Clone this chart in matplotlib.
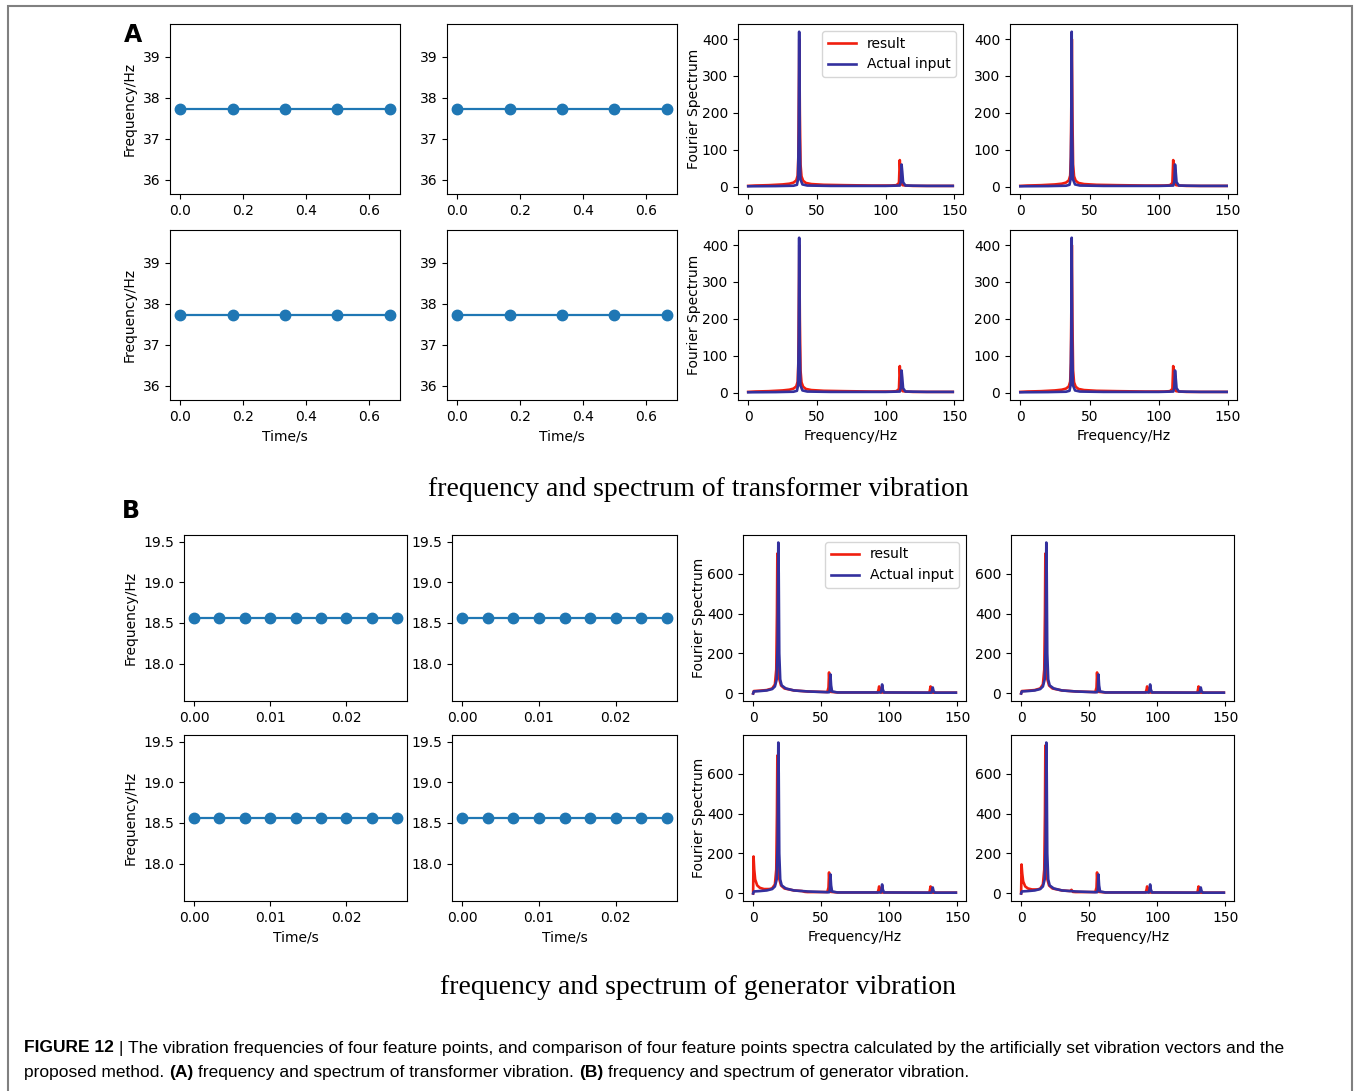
import matplotlib
matplotlib.use("Agg")
import matplotlib.pyplot as plt
from matplotlib import font_manager
import numpy as np

W, H = 1356, 1091

# ---------------- data ----------------
A_time = [0.0, 1/6, 2/6, 3/6, 4/6]
A_freq_val = [37.73, 37.73, 37.73, 37.73, 37.73]
B_time = [0.0, 1/300, 2/300, 3/300, 4/300, 5/300, 6/300, 7/300, 8/300]
B_freq_val = [18.56] * 9

A_red_f = [0, 5, 15, 25, 30, 33, 35, 36, 36.5, 36.9, 37.2, 37.6, 38.1, 38.8, 40.0, 42, 46, 55, 70, 90, 104, 108, 109.8, 110.4, 110.9, 111.5, 112.5, 115, 120, 135, 149]
A_red_a = [2, 3, 4, 6, 8, 11, 17, 30, 80, 250, 400, 200, 60, 28, 16, 10, 7, 5, 4, 3, 3, 4, 10, 72, 40, 10, 4, 3, 2, 2, 2]
A_blue_f = [0, 20, 33, 35.5, 36.3, 36.8, 37.1, 37.4, 38.0, 39.5, 43, 60, 100, 110.5, 111.2, 111.7, 112.2, 112.8, 114.5, 130, 149]
A_blue_a = [1, 1.5, 2.5, 5, 20, 150, 420, 150, 20, 6, 3, 2, 2, 3, 15, 60, 40, 12, 3, 2, 2]

B_red_f = [0, 0.5, 5, 10, 14, 16, 17.0, 17.5, 17.8, 18.1, 18.6, 19.3, 20.5, 23, 30, 40, 54.5, 55.4, 55.8, 56.3, 57, 62, 91.5, 92.2, 92.6, 93.2, 94, 129.5, 130.0, 130.4, 131, 132, 149]
B_red_a = [0, 12, 14, 17, 25, 45, 120, 400, 700, 400, 150, 70, 40, 25, 15, 10, 7, 30, 105, 40, 8, 5, 5, 20, 35, 15, 5, 4, 20, 35, 12, 4, 4]
B_blue_f = [0, 0.5, 5, 10, 14, 16, 17.3, 18.0, 18.5, 18.8, 19.2, 19.9, 21.0, 24, 30, 40, 55.8, 56.4, 56.8, 57.3, 58, 62, 93.8, 94.4, 94.8, 95.3, 96.2, 131.0, 131.6, 132.0, 132.6, 133.6, 149]
B_blue_a = [0, 10, 12, 15, 22, 35, 70, 250, 755, 600, 200, 70, 40, 25, 15, 10, 6, 20, 95, 40, 10, 5, 5, 20, 45, 20, 5, 4, 15, 30, 12, 4, 4]
# red spectrum with DC spike (bottom row of B)
B_red_dc_f = [0, 0.3, 0.8, 1.5, 3, 5, 8, 12, 14, 16, 17.0, 17.5, 17.8, 18.1, 18.6, 19.3, 20.5, 23, 30, 36, 37, 38, 40, 54.5, 55.4, 55.8, 56.3, 57, 62, 91.5, 92.2, 92.6, 93.2, 94, 129.5, 130.0, 130.4, 131, 132, 149]
B_red_dc3_a = [0, 185, 120, 70, 40, 28, 22, 22, 26, 45, 120, 400, 690, 400, 150, 70, 40, 25, 15, 12, 10, 8, 7, 7, 30, 105, 40, 8, 5, 5, 20, 35, 15, 5, 4, 20, 35, 12, 4, 4]
B_red_dc4_a = [0, 145, 100, 60, 35, 25, 20, 20, 24, 45, 120, 400, 740, 400, 150, 70, 40, 25, 15, 12, 18, 8, 7, 7, 30, 105, 40, 8, 5, 5, 20, 35, 15, 5, 4, 20, 35, 12, 4, 4]

legend_labels = ["result", "Actual input"]
titles = ["frequency and spectrum of transformer vibration",
          "frequency and spectrum of generator vibration"]
caption_line1 = [("FIGURE 12", "bold"), ("|", "normal"),
                 ("The vibration frequencies of four feature points, and comparison of four feature points spectra calculated by the artificially set vibration vectors and the", "normal")]
caption_line2 = [("proposed method.", "normal"), ("(A)", "bold"), ("frequency and spectrum of transformer vibration.", "normal"),
                 ("(B)", "bold"), ("frequency and spectrum of generator vibration.", "normal")]

RED = "#f01e0e"
BLUE = "#33309e"
TAB = "#1f77b4"

plt.rcParams["font.family"] = ["DejaVu Sans"]
plt.rcParams["font.size"] = 10

fig = plt.figure(figsize=(W / 100, H / 100), dpi=100)


def ax_px(x0, y0, x1, y1):
    return fig.add_axes([x0 / W, 1 - y1 / H, (x1 - x0) / W, (y1 - y0) / H])


# frame (open at the bottom, as in the cropped reference)
fig.add_artist(plt.Rectangle((8 / W, -0.05), (1352 - 8) / W, 1.05 - 6 / H, transform=fig.transFigure,
                             fill=False, edgecolor="#808080", linewidth=1.5))

# ---------------- panel A ----------------
A_rows = [(24, 194), (230, 400)]
A_cols = [(170, 400), (447, 677), (738, 963), (1010, 1237)]
for r, (y0, y1) in enumerate(A_rows):
    for c, (x0, x1) in enumerate(A_cols):
        ax = ax_px(x0, y0, x1, y1)
        if c < 2:
            ax.plot(A_time, A_freq_val, "-o", color=TAB, lw=1.6, ms=7.5)
            ax.set_xticks([0.0, 0.2, 0.4, 0.6])
            ax.set_yticks([36, 37, 38, 39])
            if c == 0:
                ax.set_ylabel("Frequency/Hz")
            if r == 1:
                ax.set_xlabel("Time/s")
        else:
            ax.plot(A_red_f, A_red_a, color=RED, lw=1.9, label=legend_labels[0])
            ax.plot(A_blue_f, A_blue_a, color=BLUE, lw=1.9, label=legend_labels[1])
            ax.set_xticks([0, 50, 100, 150])
            ax.set_yticks([0, 100, 200, 300, 400])
            if c == 2:
                ax.set_ylabel("Fourier Spectrum", labelpad=1)
            if r == 1:
                ax.set_xlabel("Frequency/Hz")
            if r == 0 and c == 2:
                ax.legend(loc="upper right", fontsize=10)

# ---------------- panel B ----------------
B_rows = [(535, 701), (735, 901)]
B_cols = [(184, 407), (452, 677), (743, 966), (1011, 1234)]
for r, (y0, y1) in enumerate(B_rows):
    for c, (x0, x1) in enumerate(B_cols):
        ax = ax_px(x0, y0, x1, y1)
        if c < 2:
            ax.plot(B_time, B_freq_val, "-o", color=TAB, lw=1.6, ms=7.5)
            ax.set_xticks([0.0, 0.01, 0.02])
            ax.set_xticklabels(["0.00", "0.01", "0.02"])
            ax.set_yticks([18.0, 18.5, 19.0, 19.5])
            if c == 0:
                ax.set_ylabel("Frequency/Hz")
            if r == 1:
                ax.set_xlabel("Time/s")
        else:
            if r == 0:
                ax.plot(B_red_f, B_red_a, color=RED, lw=1.9, label=legend_labels[0])
            elif c == 2:
                ax.plot(B_red_dc_f, B_red_dc3_a, color=RED, lw=1.9, label=legend_labels[0])
            else:
                ax.plot(B_red_dc_f, B_red_dc4_a, color=RED, lw=1.9, label=legend_labels[0])
            ax.plot(B_blue_f, B_blue_a, color=BLUE, lw=1.9, label=legend_labels[1])
            ax.set_xticks([0, 50, 100, 150])
            ax.set_yticks([0, 200, 400, 600])
            if c == 2:
                ax.set_ylabel("Fourier Spectrum", labelpad=1)
            if r == 1:
                ax.set_xlabel("Frequency/Hz")
            if r == 0 and c == 2:
                ax.legend(loc="upper right", fontsize=10)

# panel letters
fig.text(124 / W, 1 - 35 / H, "A", fontsize=17, weight="bold", va="center", ha="left")
fig.text(122 / W, 1 - 511 / H, "B", fontsize=17, weight="bold", va="center", ha="left")

# titles
fig.text(698 / W, 1 - 489 / H, titles[0], fontsize=20, family="Liberation Serif", ha="center", va="center")
fig.text(698 / W, 1 - 988 / H, titles[1], fontsize=20, family="Liberation Serif", ha="center", va="center")

# caption
names = {f.name for f in font_manager.fontManager.ttflist}
capfam = "Liberation Sans Narrow" if "Liberation Sans Narrow" in names else "Liberation Sans"
renderer = fig.canvas.get_renderer()


def width_of(txt, size, weight):
    t = fig.text(0, 0, txt, fontsize=size, weight=weight, family=capfam)
    w = t.get_window_extent(renderer).width
    t.remove()
    return w


def runs_width(runs, size):
    sp = width_of("a a", size, "normal") - width_of("aa", size, "normal")
    return sum(width_of(t, size, w) for t, w in runs) + sp * (len(runs) - 1), sp


base = 12.0
wtot, _ = runs_width(caption_line1, base)
size = base * (1280 - 24) / wtot


def draw_runs(runs, x, y, size):
    _, sp = runs_width(runs, size)
    for txt, weight in runs:
        t = fig.text(x / W, 1 - y / H, txt, fontsize=size, weight=weight, family=capfam,
                     va="center", ha="left")
        x += t.get_window_extent(renderer).width + sp


draw_runs(caption_line1, 24, 1048, size)
draw_runs(caption_line2, 24, 1073, size)

fig.savefig("out.png", dpi=100)
